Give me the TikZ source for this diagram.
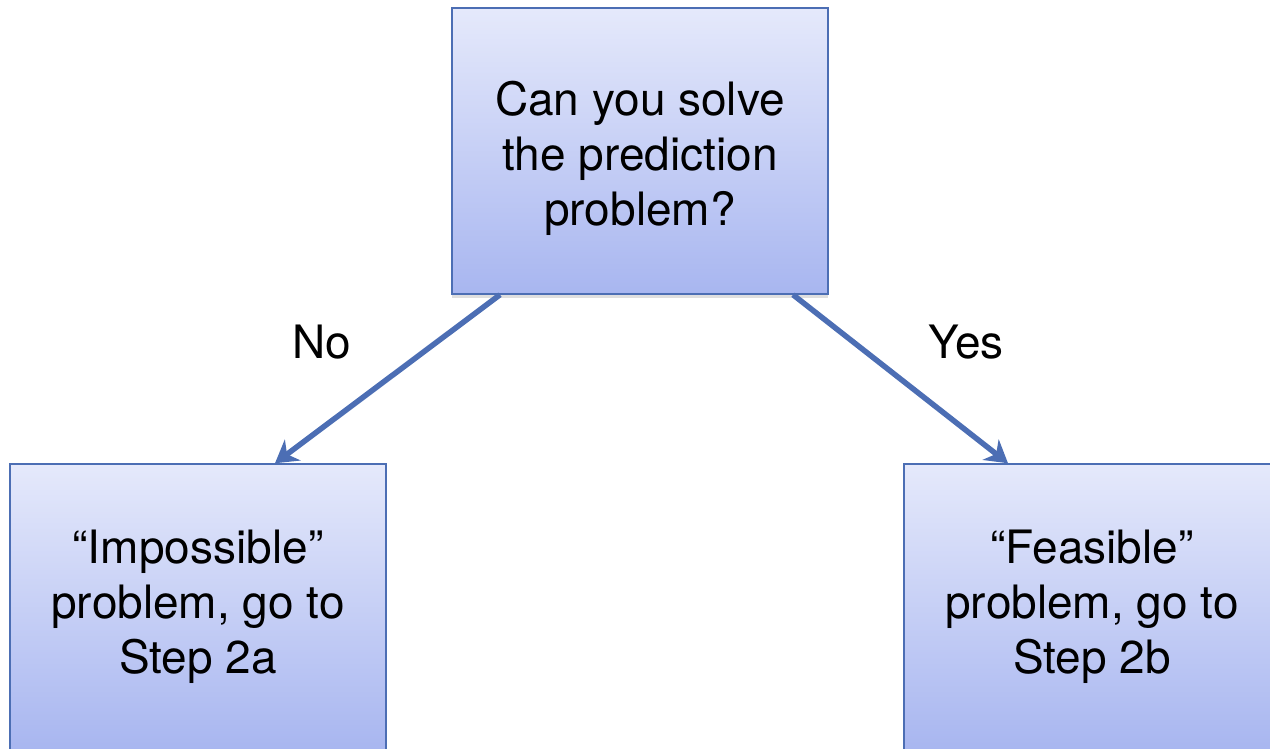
\documentclass[tikz,border=0pt]{standalone}
\usepackage{fontspec}
\setmainfont{TeX Gyre Heros}
\usepackage{tikz}
\usetikzlibrary{arrows.meta,shadows}
\definecolor{boxtop}{RGB}{229,233,251}
\definecolor{boxbot}{RGB}{168,182,240}
\definecolor{boxline}{RGB}{76,110,180}
\colorlet{arrow}{boxline}

\begin{document}
\begin{tikzpicture}[x=1pt,y=1pt,
  every node/.style={font=\fontsize{46}{55}\selectfont},
  question/.style={draw=boxline,line width=1.5pt,top color=boxtop,bottom color=boxbot,
    minimum width=376pt,minimum height=286pt,align=center,inner sep=0pt,
    drop shadow={opacity=.25,shadow xshift=0pt,shadow yshift=-4pt}},
  branch/.style={draw=arrow,line width=5.5pt,-{Stealth[length=22pt,width=26pt,inset=7pt]}},
]
\useasboundingbox (0,0) rectangle (1270,749);
\begin{scope}
\clip (0,0) rectangle (1270,749);
\node[question,text height=160pt] (ask) at (640,598) {Can you solve\\the prediction\\problem?};
\node[question] (hard) at (198,142) {“Impossible”\\problem, go to\\Step 2a};
\node[question] (easy) at (1092,142) {“Feasible”\\problem, go to\\Step 2b};
\end{scope}
\draw[branch] ([xshift=-140]ask.south) -- ([xshift=77]hard.north);
\draw[branch] ([xshift=153]ask.south) -- ([xshift=-84]easy.north);
\node (no) at (322,407) {No};
\node (yes) at (966,407) {Yes};
\end{tikzpicture}
\end{document}
